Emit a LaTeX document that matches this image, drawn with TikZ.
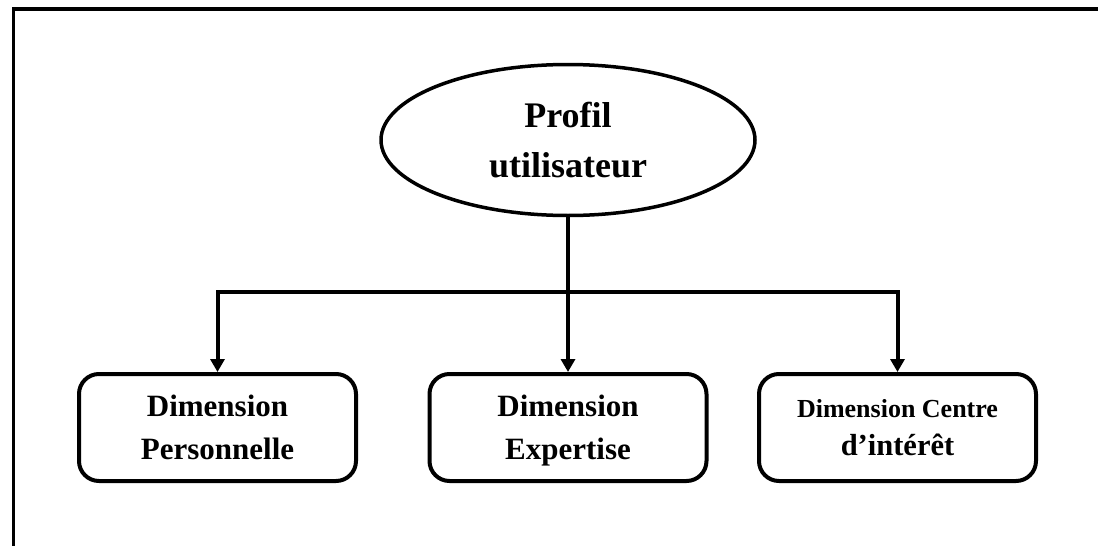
\documentclass[tikz,border=0pt]{standalone}
\usepackage{fontspec}
\setmainfont{Liberation Serif}
\usetikzlibrary{shapes.geometric,arrows.meta}
\tikzset{
  frameline/.style={line width=3.5pt},
  rootshape/.style={ellipse, draw, line width=3.5pt, minimum width=374pt, minimum height=151pt, inner sep=0pt, align=center, font=\bfseries\fontsize{36}{50}\selectfont},
  dimbox/.style={rectangle, rounded corners=20pt, draw, line width=4pt, minimum width=277pt, minimum height=107pt, inner sep=0pt, text depth=0pt, align=center, font=\bfseries\fontsize{31}{43}\selectfont},
  link/.style={line width=4pt, line join=miter},
  arrowlink/.style={link, -{Triangle[length=13pt,width=14pt]}},
}
\begin{document}
\begin{tikzpicture}[x=1pt,y=-1pt]
\useasboundingbox (0,0) rectangle (1098,546);
\fill[white] (0,0) rectangle (1098,546);
% partial outer frame
\draw[frameline] (13.5,546) -- (13.5,9) -- (1098,9);
% nodes
\node[rootshape] (root) at (568,140) {Profil\\utilisateur};
\node[dimbox] (perso) at (217.5,427.5) {Dimension\\Personnelle};
\node[dimbox] (expert) at (568,427.5) {Dimension\\Expertise};
\node[dimbox, font=\bfseries\fontsize{26}{38}\selectfont] (centre) at (897.5,427.5) {Dimension Centre\\\fontsize{30.5}{38}\selectfont d’intérêt};
\coordinate (hub) at (568,292);
% connectors
\draw[arrowlink] (root.south) -- (expert.north);
\draw[arrowlink] (hub) -| (perso.north);
\draw[arrowlink] (hub) -| (centre.north);
\end{tikzpicture}
\end{document}
